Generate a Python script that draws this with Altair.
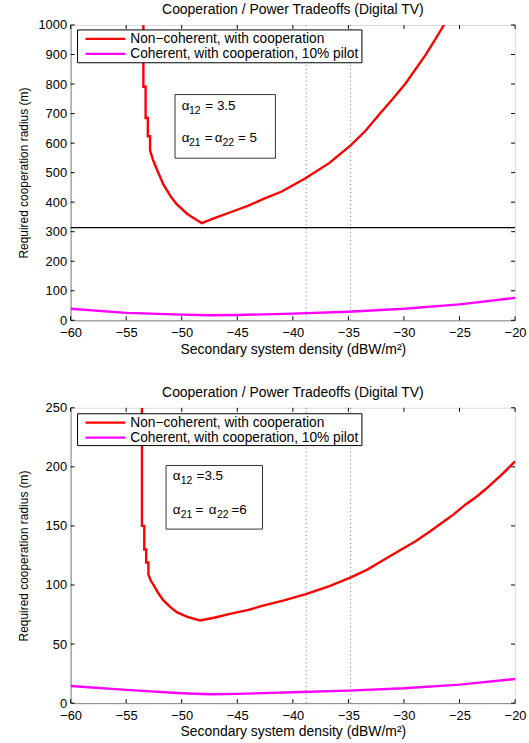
import altair as alt
import pandas as pd

FONT = "Liberation Sans"
W, H = 447, 297

series_names = ["Non\u2212coherent, with cooperation", "Coherent, with cooperation, 10% pilot"]
series_colors = ["#ff0000", "#ff00ff"]
title_text = "Cooperation / Power Tradeoffs (Digital TV)"
x_title = "Secondary system density (dBW/m\u00b2)"
y_title = "Required cooperation radius (m)"

x_ticks = [-60, -55, -50, -45, -40, -35, -30, -25, -20]
top_y_ticks = [0, 100, 200, 300, 400, 500, 600, 700, 800, 900, 1000]
bot_y_ticks = [0, 50, 100, 150, 200, 250]
guide_x = [-38.8, -34.8]
top_threshold = [314]

# Top panel: non-coherent (red)
top_red_x = [-53.45, -53.45, -53.25, -53.25, -53.05, -53.05, -52.85, -52.85, -52.6, -52.39,
             -52.0, -51.65, -51.0, -50.45, -49.5, -48.8, -48.2, -47.0, -45.67, -44.0,
             -42.69, -41.0, -38.9, -36.7, -34.8, -33.5, -32.25, -31.0, -29.86, -28.07,
             -27.2, -26.4]
top_red_y = [1000, 791, 791, 685, 685, 623, 623, 575, 545, 525,
             490, 460, 420, 393, 360, 343, 329, 347, 365, 388,
             410, 436, 480, 533, 592, 640, 696, 750, 802, 898,
             950, 1000]
# Magenta (coherent) x grid shared by both panels
mag_x = [-60, -55, -50, -47.5, -45, -40, -35, -30, -25, -20]
top_mag_y = [39, 25, 19, 17, 18, 22.5, 29, 39, 54, 76]

# Bottom panel
bot_red_x = [-53.58, -53.58, -53.37, -53.37, -53.2, -53.2, -53.0, -53.0, -52.8, -52.54,
             -52.1, -51.65, -51.0, -50.45, -49.5, -48.36, -47.0, -45.67, -44.0, -42.69,
             -40.8, -38.9, -36.7, -34.78, -33.3, -31.95, -30.5, -28.96, -27.7, -26.57,
             -25.5, -24.48, -23.5, -22.69, -21.3, -20.0]
bot_red_y = [250, 150, 150, 130, 130, 119, 119, 109, 104, 100,
             93, 87, 81, 77, 73, 70, 72.5, 75.5, 79, 82.5,
             87, 92, 99, 106.5, 113, 120.5, 128.5, 137, 145, 152.7,
             160, 168, 174.5, 180.8, 192.5, 204.6]
bot_mag_y = [14.5, 11.2, 8.4, 7.5, 7.8, 9.2, 10.6, 12.6, 15.7, 20.4]

# annotation pieces: (text, is_subscript)
top_note = [[("\u03b1", 0), ("12", 1), ("= 3.5", 0)],
            [("\u03b1", 0), ("21", 1), ("=", 0), ("\u03b1", 0), ("22", 1), ("= 5", 0)]]
bot_note = [[("\u03b1", 0), ("12", 1), ("=3.5", 0)],
            [("\u03b1", 0), ("21", 1), ("=", 0), ("\u03b1", 0), ("22", 1), ("=6", 0)]]

one = pd.DataFrame({"k": [0]})


def text_mark(txt, x, y, size=13.5):
    return alt.Chart(one).mark_text(align="left", baseline="middle", font=FONT,
                                    fontSize=size, color="black").encode(
        x=alt.value(x), y=alt.value(y), text=alt.value(txt))


def panel(red_x, red_y, m_y, ymax, yticks, note, note_x, note_y, box, leg_box, leg_rows, hline=None):
    rows = []
    for i, (a, b) in enumerate(zip(red_x, red_y)):
        rows.append({"x": a, "y": b, "series": series_names[0], "i": i})
    for i, (a, b) in enumerate(zip(mag_x, m_y)):
        rows.append({"x": a, "y": b, "series": series_names[1], "i": i})
    df = pd.DataFrame(rows)
    xs = alt.Scale(domain=[-60, -20], nice=False, zero=False)
    ys = alt.Scale(domain=[0, ymax], nice=False)
    xax = alt.Axis(values=x_ticks, format="d", title=x_title, ticks=False, grid=False,
                   labelPadding=6, titlePadding=3, labelOverlap=False, labelFontSize=13,
                   titleFontSize=14, titleFontWeight="normal", labelFlush=False)
    yax = alt.Axis(values=yticks, format="d", title=y_title, ticks=False, grid=False,
                   labelPadding=4, titleX=-40, titleY=H / 2, labelOverlap=False, labelFontSize=13,
                   titleFontSize=12, titleFontWeight="normal", labelFlush=False)
    color = alt.Color("series:N", scale=alt.Scale(domain=series_names, range=series_colors),
                      legend=None)
    lines = alt.Chart(df).mark_line(strokeWidth=2.4, clip=True).encode(
        x=alt.X("x:Q", scale=xs, axis=xax),
        y=alt.Y("y:Q", scale=ys, axis=yax),
        color=color,
        order="i:Q",
    )
    guides = alt.Chart(pd.DataFrame({"g": guide_x})).mark_rule(
        color="#777777", strokeWidth=1, strokeDash=[1, 3]).encode(
        x=alt.X("g:Q", scale=xs, axis=xax))
    layers = [guides]
    if hline is not None:
        layers.append(alt.Chart(pd.DataFrame({"h": hline})).mark_rule(
            color="black", strokeWidth=1.2).encode(y=alt.Y("h:Q", scale=ys, axis=yax)))
    layers.append(lines)
    xt = pd.DataFrame({"t": x_ticks})
    yt = pd.DataFrame({"t": yticks})
    tk = dict(color="black", strokeWidth=1)
    xenc = alt.X("t:Q", scale=xs, axis=xax)
    yenc = alt.Y("t:Q", scale=ys, axis=yax)
    layers += [
        alt.Chart(xt).mark_rule(**tk).encode(x=xenc, y=alt.value(H), y2=alt.value(H - 4)),
        alt.Chart(xt).mark_rule(**tk).encode(x=xenc, y=alt.value(0), y2=alt.value(4)),
        alt.Chart(yt).mark_rule(**tk).encode(y=yenc, x=alt.value(0), x2=alt.value(4)),
        alt.Chart(yt).mark_rule(**tk).encode(y=yenc, x=alt.value(W), x2=alt.value(W - 4)),
    ]
    # annotation box
    layers.append(alt.Chart(one).mark_rect(fill="white", stroke="#333333", strokeWidth=1).encode(
        x=alt.value(box[0]), x2=alt.value(box[1]), y=alt.value(box[2]), y2=alt.value(box[3])))
    for pieces, xs_line, yy in zip(note, note_x, note_y):
        for (txt, sub), xx in zip(pieces, xs_line):
            if sub:
                layers.append(text_mark(txt, xx, yy + 5, size=10.5))
            else:
                layers.append(text_mark(txt, xx, yy, size=13.5))
    # legend box
    layers.append(alt.Chart(one).mark_rect(fill="white", stroke="black", strokeWidth=1).encode(
        x=alt.value(leg_box[0]), x2=alt.value(leg_box[1]), y=alt.value(leg_box[2]), y2=alt.value(leg_box[3])))
    for name, col, yy in zip(series_names, series_colors, leg_rows):
        layers.append(alt.Chart(one).mark_rule(color=col, strokeWidth=2.3).encode(
            x=alt.value(15), x2=alt.value(55), y=alt.value(yy)))
        layers.append(text_mark(name, 60, yy, size=13.8))
    return alt.layer(*layers).properties(
        width=W, height=H,
        title=alt.TitleParams(title_text, font=FONT, fontSize=14, fontWeight="normal", offset=2),
    )


top = panel(top_red_x, top_red_y, top_mag_y, 1000, top_y_ticks, top_note,
            [[111.7, 119, 135.5], [111.7, 119, 135, 145, 152.7, 168.3]], [82, 113.7],
            (105, 206, 70, 134), (7, 293, 5, 38), (14, 29), hline=top_threshold)
bottom = panel(bot_red_x, bot_red_y, bot_mag_y, 250, bot_y_ticks, bot_note,
               [[102.7, 110.7, 126.7], [102.7, 110.7, 125.7, 139, 147.3, 161.7]], [69, 103],
               (96, 193, 58, 122), (7, 293, 6, 38), (15, 30))

chart = alt.vconcat(top, bottom, spacing=28).properties(
    padding={"left": 17, "top": 0, "right": 2, "bottom": 2}
).configure_view(stroke="black", strokeWidth=1).configure_axis(
    domainColor="black", domainWidth=1, labelFont=FONT, labelColor="black",
    titleFont=FONT, titleFontWeight="normal", titleColor="black"
).configure(background="white")

chart.save("out.html", embed_options={"renderer": "svg", "actions": False})
